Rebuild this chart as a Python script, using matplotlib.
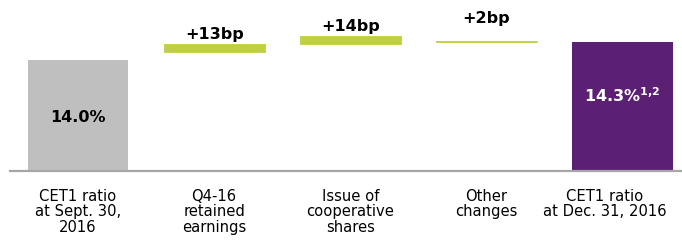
import matplotlib
matplotlib.use("Agg")
import matplotlib.pyplot as plt

# ---- data ----
categories = ["CET1 ratio\nat Sept. 30,\n2016", "Q4-16\nretained\nearnings",
              "Issue of\ncooperative\nshares", "Other\nchanges",
              "CET1 ratio\nat Dec. 31, 2016"]
start_value = 14.0
end_value = 14.3
delta_bp = [13, 14, 2]
delta_bases = [14.14, 14.28, 14.31]   # floating segment bottoms as drawn
delta_labels = ["+13bp", "+14bp", "+2bp"]
start_label = "14.0%"
end_label = r"14.3%$^{\mathbf{1{,}2}}$"

# ---- style ----
GRAY = "#BFBFBF"
GREEN = "#BFCF3F"
PURPLE = "#5B1F73"
AXIS = "#A6A6A6"

W, H, DPI = 682, 241, 100
fig = plt.figure(figsize=(W / DPI, H / DPI), dpi=DPI)
base = 12.05
px_per_unit = 57.0
ax_bottom_px = 70.3
ax = fig.add_axes([10 / W, ax_bottom_px / H, 672 / W, (H - ax_bottom_px) / H])
ax.set_ylim(base, base + (H - ax_bottom_px) / px_per_unit)
ax.set_xlim(-0.5, 4.4375)
ax.axis("off")

x = list(range(len(categories)))
bw = 0.74

# start / end bars
ax.bar(x[0], start_value - base, bottom=base, width=bw, color=GRAY)
ax.bar(x[-1], end_value - base, bottom=base, width=bw, color=PURPLE)

# floating deltas
gaps = [5, 5, 18]
for i, (d, b, lab) in enumerate(zip(delta_bp, delta_bases, delta_labels)):
    xi = x[i + 1]
    ax.bar(xi, d / 100.0, bottom=b, width=bw, color=GREEN,
           edgecolor=GREEN, linewidth=0.6)
    ax.annotate(lab, (xi, b + d / 100.0), xytext=(0, gaps[i]),
                textcoords="offset pixels", ha="center", va="baseline",
                fontsize=11.5, fontweight="bold", color="black")

ax.annotate(start_label, (x[0], start_value), xytext=(0, -58),
            textcoords="offset pixels", ha="center", va="center",
            fontsize=11.5, fontweight="bold", color="black")
ax.annotate(end_label, (x[-1], end_value), xytext=(0, -53),
            textcoords="offset pixels", ha="center", va="center",
            fontsize=11.5, fontweight="bold", color="white")

# baseline axis line
ax.axhline(base, color=AXIS, lw=1.6, clip_on=False)

x_shift = [0, 0, 0, 0, -18]
for xi, c, dx in zip(x, categories, x_shift):
    ax.annotate(c, (xi, base), xytext=(dx, -18), textcoords="offset pixels",
                ha="center", va="top", fontsize=10.6, linespacing=1.06,
                color="black", annotation_clip=False)

fig.savefig("out.png", dpi=DPI)
